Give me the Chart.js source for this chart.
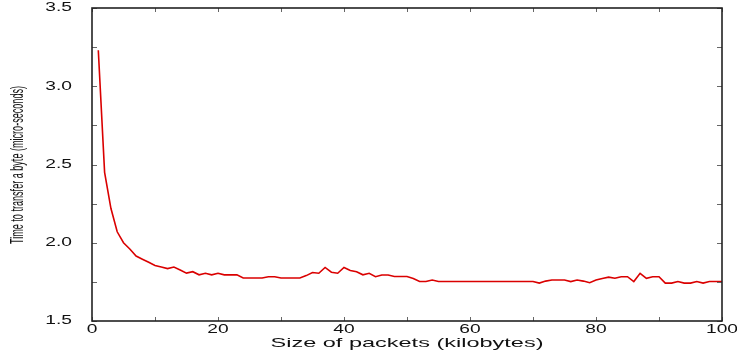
<!DOCTYPE html>
<html>
<head>
<meta charset="utf-8">
<script src="https://cdn.jsdelivr.net/npm/chart.js@4.4.1/dist/chart.umd.min.js"></script>
<style>
  html, body { margin: 0; padding: 0; background: #ffffff; }
  #wrap { position: relative; width: 737px; height: 352px; }
</style>
</head>
<body>
<div id="wrap"><canvas id="c"></canvas></div>
<script>
// Packet sizes (kilobytes)
const packetSizes = [
  1,2,3,4,5,6,7,8,9,10,
  11,12,13,14,15,16,17,18,19,20,
  21,22,23,24,25,26,27,28,29,30,
  31,32,33,34,35,36,37,38,39,40,
  41,42,43,44,45,46,47,48,49,50,
  51,52,53,54,55,56,57,58,59,60,
  61,62,63,64,65,66,67,68,69,70,
  71,72,73,74,75,76,77,78,79,80,
  81,82,83,84,85,86,87,88,89,90,
  91,92,93,94,95,96,97,98,99,100
];
// Time to transfer a byte (micro-seconds)
const transferTimes = [
  3.23,2.45,2.22,2.07,2.00,1.96,1.915,1.895,1.875,1.855,
  1.845,1.835,1.845,1.826,1.806,1.815,1.795,1.805,1.795,1.805,
  1.795,1.795,1.795,1.775,1.775,1.775,1.775,1.783,1.783,1.775,
  1.775,1.775,1.775,1.790,1.810,1.805,1.842,1.812,1.805,1.842,
  1.823,1.815,1.795,1.805,1.783,1.794,1.794,1.784,1.784,1.784,
  1.772,1.752,1.752,1.762,1.752,1.752,1.752,1.752,1.752,1.752,
  1.752,1.752,1.752,1.752,1.752,1.752,1.752,1.752,1.752,1.752,
  1.742,1.755,1.762,1.762,1.762,1.752,1.762,1.755,1.745,1.762,
  1.772,1.780,1.773,1.783,1.783,1.752,1.805,1.773,1.783,1.783,
  1.742,1.742,1.752,1.742,1.742,1.752,1.742,1.752,1.752,1.752
];
// Axis ticks and labels
const xTickValues = [0,10,20,30,40,50,60,70,80,90,100];
const xTickLabels = ["0","20","40","60","80","100"];
const xLabelValues = [0,20,40,60,80,100];
const yTickValues = [1.5,1.75,2.0,2.25,2.5,2.75,3.0,3.25,3.5];
const yTickLabels = ["1.5","2.0","2.5","3.0","3.5"];
const yLabelValues = [1.5,2.0,2.5,3.0,3.5];
const xTitle = "Size of packets (kilobytes)";
const yTitle = "Time to transfer a byte (micro-seconds)";

const points = packetSizes.map((x, i) => ({ x: x, y: transferTimes[i] }));

function stretchText(ctx, text, x, y, sx, align) {
  ctx.save();
  ctx.translate(x, y);
  ctx.scale(sx, 1);
  ctx.textAlign = align;
  ctx.fillText(text, 0, 0);
  ctx.restore();
}

const framePlugin = {
  id: 'frame',
  afterDraw(chart) {
    const ctx = chart.ctx;
    const { left, right, top, bottom } = chart.chartArea;
    const xs = chart.scales.x, ys = chart.scales.y;
    ctx.save();
    // inward ticks on all sides
    ctx.strokeStyle = '#666';
    ctx.lineWidth = 1;
    ctx.beginPath();
    xTickValues.forEach(v => {
      const px = Math.round(xs.getPixelForValue(v)) + 0.5;
      ctx.moveTo(px, bottom); ctx.lineTo(px, bottom - 4);
      ctx.moveTo(px, top); ctx.lineTo(px, top + 4);
    });
    yTickValues.forEach(v => {
      const py = Math.round(ys.getPixelForValue(v)) + 0.5;
      ctx.moveTo(left, py); ctx.lineTo(left + 5, py);
      ctx.moveTo(right, py); ctx.lineTo(right - 5, py);
    });
    ctx.stroke();
    // frame
    ctx.strokeStyle = '#222';
    ctx.lineWidth = 1.6;
    ctx.strokeRect(left, top, right - left, bottom - top);

    // tick labels
    ctx.fillStyle = '#111';
    ctx.font = '12px "Liberation Sans", Arial, sans-serif';
    ctx.textBaseline = 'middle';
    yLabelValues.forEach((v, i) => {
      stretchText(ctx, yTickLabels[i], 72, ys.getPixelForValue(v), 1.6, 'right');
    });
    xLabelValues.forEach((v, i) => {
      stretchText(ctx, xTickLabels[i], xs.getPixelForValue(v), bottom + 8.5, 1.6, 'center');
    });

    // x title
    ctx.font = '13px "Liberation Sans", Arial, sans-serif';
    let w = ctx.measureText(xTitle).width;
    stretchText(ctx, xTitle, (left + right) / 2, bottom + 22.5, 273 / w, 'center');

    // y title (rotated, condensed)
    ctx.font = '18px "Liberation Sans", Arial, sans-serif';
    w = ctx.measureText(yTitle).width;
    ctx.save();
    ctx.translate(18, 165);
    ctx.rotate(-Math.PI / 2);
    stretchText(ctx, yTitle, 0, 0, 158 / w, 'center');
    ctx.restore();
    ctx.restore();
  }
};

new Chart(document.getElementById('c'), {
  type: 'line',
  data: {
    datasets: [{
      data: points,
      borderColor: 'rgb(218,0,0)',
      borderWidth: 1.6,
      pointRadius: 0,
      tension: 0,
      fill: false
    }]
  },
  options: {
    responsive: true,
    maintainAspectRatio: false,
    animation: false,
    events: [],
    layout: { padding: { top: 8, right: 15, left: 0, bottom: 0 } },
    plugins: { legend: { display: false }, tooltip: { enabled: false } },
    scales: {
      x: {
        type: 'linear', min: 0, max: 100,
        grid: { display: false }, border: { display: false },
        ticks: { display: false },
        afterFit(s) { s.height = 31; s.paddingLeft = 0; s.paddingRight = 0; }
      },
      y: {
        type: 'linear', min: 1.5, max: 3.5,
        grid: { display: false }, border: { display: false },
        ticks: { display: false },
        afterFit(s) { s.width = 92; s.paddingTop = 0; s.paddingBottom = 0; }
      }
    }
  },
  plugins: [framePlugin]
});
</script>
</body>
</html>
